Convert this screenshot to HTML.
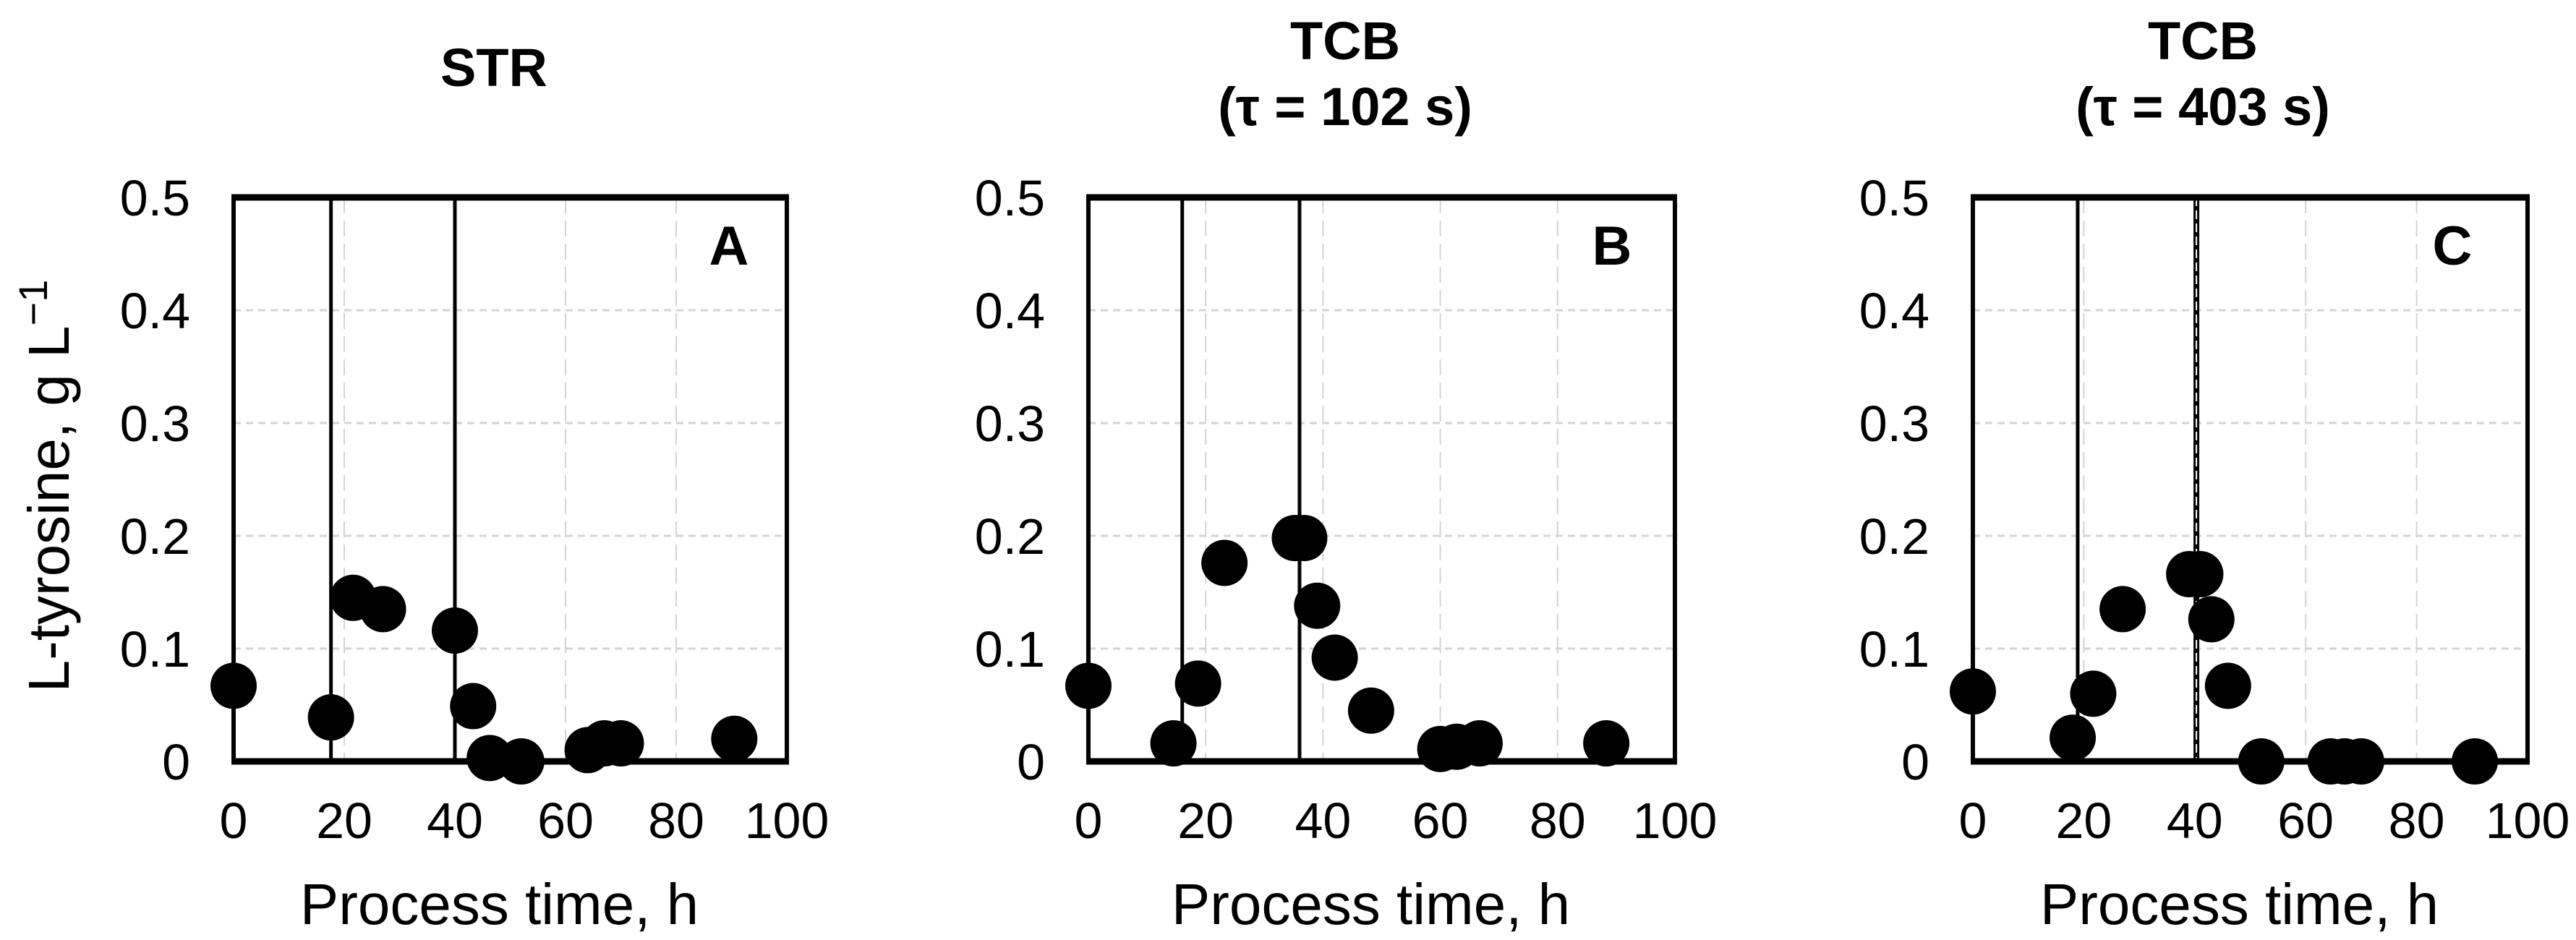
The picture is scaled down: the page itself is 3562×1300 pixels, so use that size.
<!DOCTYPE html>
<html><head><meta charset="utf-8"><style>
html,body{margin:0;padding:0;background:#fff;}
svg{display:block;font-family:"Liberation Sans",Arial,sans-serif;}
</style></head><body>
<svg id="chart" width="3562" height="1300" viewBox="0 0 3562 1300" xmlns="http://www.w3.org/2000/svg">
<text transform="translate(95,672) rotate(-90)" text-anchor="middle" font-size="80">L-tyrosine, g L<tspan font-size="56" dy="-30">−1</tspan></text>
</svg>
<script>
const xTicks = [0, 20, 40, 60, 80, 100];
const yTicks = [0, 0.1, 0.2, 0.3, 0.4, 0.5];
const yTickLabels = ["0", "0.1", "0.2", "0.3", "0.4", "0.5"];
const titlesA = ["STR"];
const titlesB = ["TCB", "(τ = 102 s)"];
const titlesC = ["TCB", "(τ = 403 s)"];
const timeA = [0, 17.6, 21.6, 27, 40, 43.3, 46.3, 52, 64, 67, 70, 90.5];
const tyrA = [0.067, 0.039, 0.145, 0.135, 0.116, 0.049, 0.003, 0, 0.01, 0.016, 0.016, 0.02];
const timeB = [0, 14.5, 18.7, 23.2, 35.2, 36.8, 39, 42, 48.2, 60, 62.8, 66.7, 88.3];
const tyrB = [0.067, 0.016, 0.069, 0.176, 0.198, 0.198, 0.138, 0.092, 0.045, 0.011, 0.013, 0.016, 0.016];
const timeC = [0, 18, 21.7, 27, 39, 41, 43, 46, 52, 64.5, 67, 70, 90.5];
const tyrC = [0.062, 0.021, 0.06, 0.135, 0.166, 0.166, 0.126, 0.067, 0, 0, 0, 0, 0];
const phaseA = [17.6, 40];
const phaseB = [16, 36];
const phaseC = [18.9, 40.3];

const NS = "http://www.w3.org/2000/svg";
const svg = document.getElementById("chart");
function mk(tag, attrs, parent) {
  const e = document.createElementNS(NS, tag);
  for (const k in attrs) e.setAttribute(k, attrs[k]);
  (parent || svg).appendChild(e);
  return e;
}
const panels = [
  {id: "a", left: 323, right: 1088, titles: titlesA, letter: "A", lx: 1008, tx: 683, xs: timeA, ys: tyrA, phases: phaseA, dashedLast: false},
  {id: "b", left: 1505, right: 2316, titles: titlesB, letter: "B", lx: 2229, tx: 1860, xs: timeB, ys: tyrB, phases: phaseB, dashedLast: false},
  {id: "c", left: 2728, right: 3495, titles: titlesC, letter: "C", lx: 3391, tx: 3046, xs: timeC, ys: tyrC, phases: phaseC, dashedLast: true}
];
const plotTop = 273, plotBottom = 1053;
panels.forEach(p => {
  const g = mk("g", {});
  
  
  const xs = v => p.left + (v / 100) * (p.right - p.left);
  const ys = v => plotBottom - (v / 0.5) * (plotBottom - plotTop);
  xTicks.slice(1, -1).forEach(t => {
    const l = mk("line", {x1: xs(t), x2: xs(t), y1: plotTop, y2: plotBottom, stroke: "#d4d4d4", "stroke-width": 2, "stroke-dasharray": "22 10"}, g);
    
    
  });
  yTicks.slice(1, -1).forEach(t => {
    const l = mk("line", {x1: p.left, x2: p.right, y1: ys(t), y2: ys(t), stroke: "#d4d4d4", "stroke-width": 3, "stroke-dasharray": "10 7"}, g);
    
    
  });
  p.phases.forEach((t, i) => {
    const l = mk("line", {x1: xs(t), x2: xs(t), y1: plotTop, y2: plotBottom, stroke: "#000", "stroke-width": (p.dashedLast && i === 1) ? 8 : 5}, g);
    
    
    if (p.dashedLast && i === 1) {
      const w = mk("line", {x1: xs(t), x2: xs(t), y1: plotTop, y2: plotBottom, stroke: "#fff", "stroke-width": 2, "stroke-dasharray": "12 6"}, g);
      
      
    }
  });
  const fl = mk("line", {x1: p.left, x2: p.left, y1: plotTop, y2: plotBottom, stroke: "#000", "stroke-width": 6}, g);
  
  
  const fr = mk("line", {x1: p.right, x2: p.right, y1: plotTop, y2: plotBottom, stroke: "#000", "stroke-width": 6}, g);
  
  
  const ft = mk("line", {x1: p.left - 3, x2: p.right + 3, y1: plotTop, y2: plotTop, stroke: "#000", "stroke-width": 9}, g);
  
  
  const fb = mk("line", {x1: p.left - 3, x2: p.right + 3, y1: plotBottom, y2: plotBottom, stroke: "#000", "stroke-width": 9}, g);
  
  
  yTicks.forEach((t, i) => {
    const tx = mk("text", {x: p.left - 60, y: ys(t) + 25, "text-anchor": "end", "font-size": 70}, g);
    tx.textContent = yTickLabels[i];
    
    
  });
  xTicks.forEach(t => {
    const tx = mk("text", {x: xs(t), y: 1159, "text-anchor": "middle", "font-size": 70}, g);
    tx.textContent = String(t);
    
    
  });
  const xt = mk("text", {x: (p.left + p.right) / 2 - 15, y: 1278, "text-anchor": "middle", "font-size": 80}, g);
  xt.textContent = "Process time, h";
  
  
  const baseY = p.titles.length === 1 ? [119] : [82, 173];
  p.titles.forEach((s, i) => {
    const tt = mk("text", {x: p.tx, y: baseY[i], "text-anchor": "middle", "font-size": 74, "font-weight": "bold"}, g);
    tt.textContent = s;
    
    
  });
  const lt = mk("text", {x: p.lx, y: 366, "text-anchor": "middle", "font-size": 76, "font-weight": "bold"}, g);
  lt.textContent = p.letter;
  
  
  p.xs.forEach((v, i) => {
    const c = mk("circle", {cx: xs(v), cy: ys(p.ys[i]), r: 32, fill: "#000"}, g);
    
    
  });
});
</script>
</body></html>
